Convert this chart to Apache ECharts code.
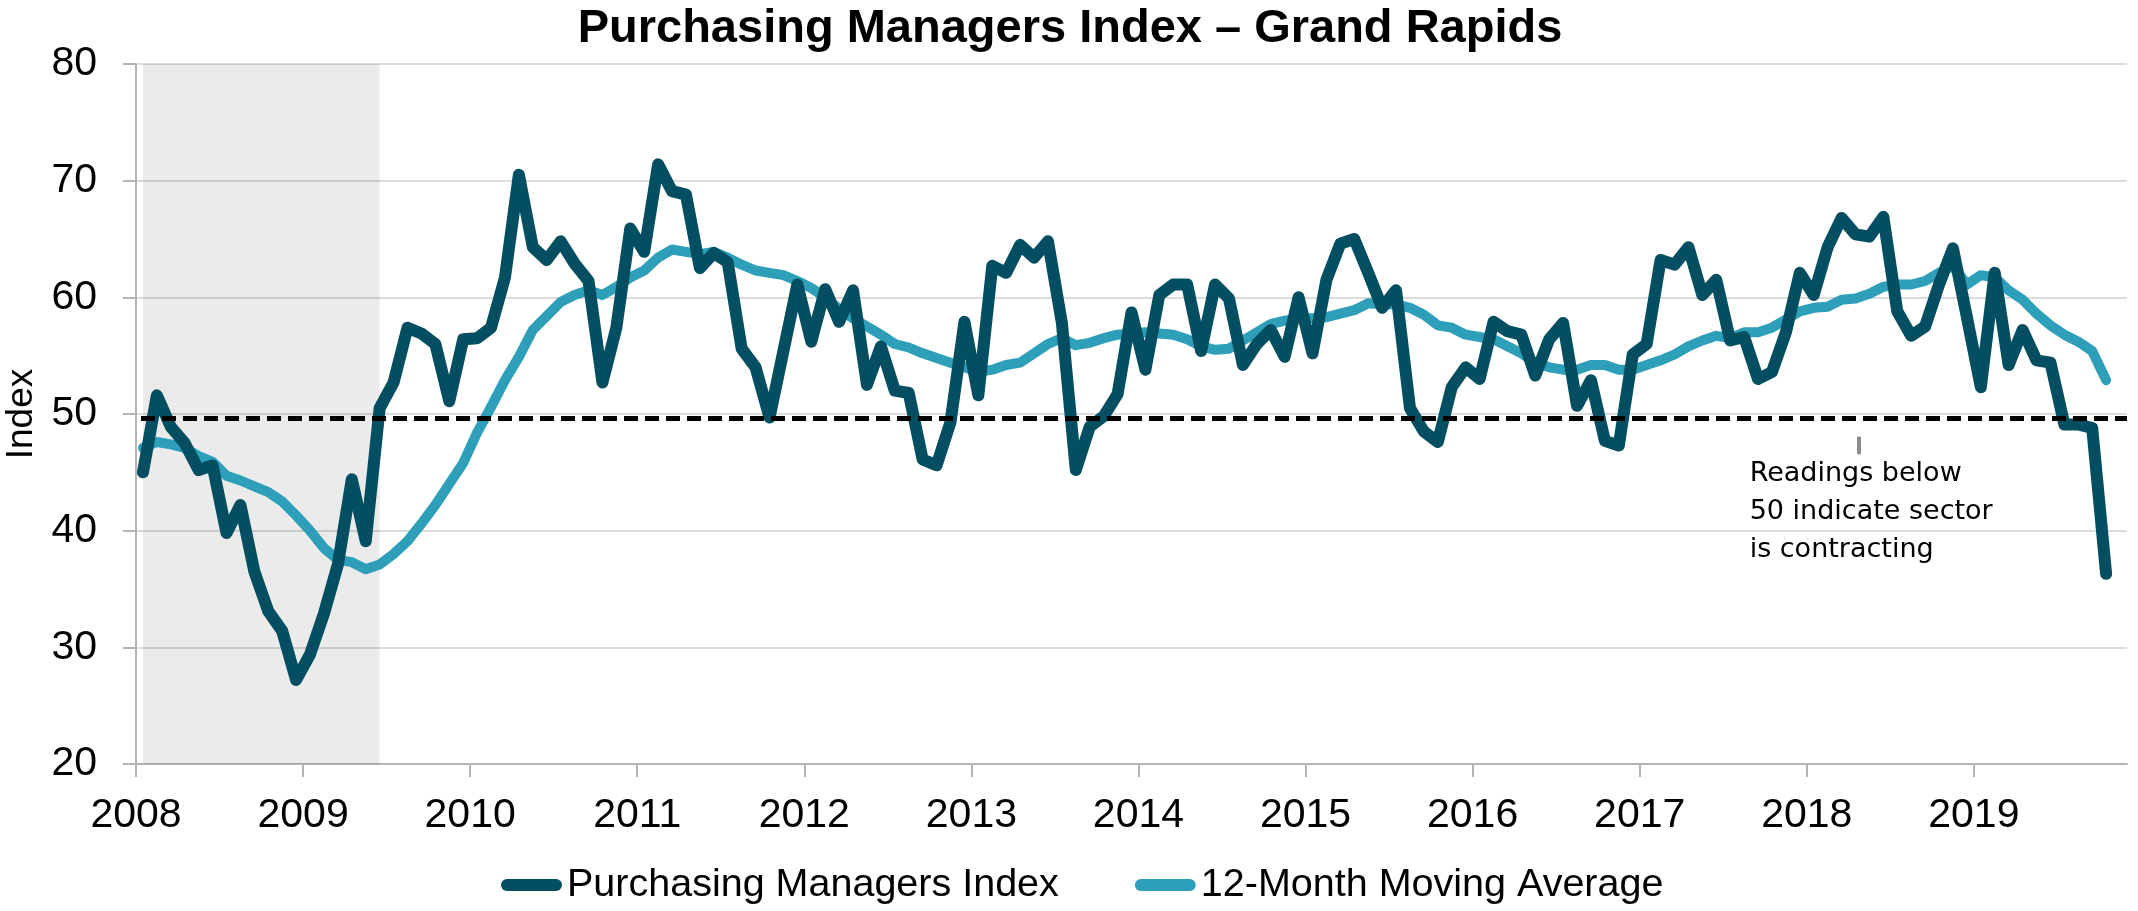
<!DOCTYPE html>
<html>
<head>
<meta charset="utf-8">
<title>Purchasing Managers Index – Grand Rapids</title>
<script src="https://cdn.jsdelivr.net/npm/echarts@6/dist/echarts.min.js"></script>
<style>
  html, body { margin: 0; padding: 0; background: #fff; }
  #chart { width: 2138px; height: 911px; }
</style>
</head>
<body>
<div id="chart"></div>
<script type="text/javascript">
  const firstYear = 2008
  const yearTicks = [2008, 2009, 2010, 2011, 2012, 2013, 2014, 2015, 2016, 2017, 2018, 2019]

  // monthly readings, Jan 2008 .. Oct 2019
  const pmi = [
    45.0, 51.6, 48.9, 47.5, 45.2, 45.6, 39.8, 42.2, 36.5, 33.1, 31.4, 27.2,
    29.4, 32.9, 37.1, 44.4, 39.1, 50.5, 52.7, 57.4, 56.9, 56.0, 51.1, 56.4,
    56.5, 57.4, 61.7, 70.5, 64.3, 63.2, 64.8, 62.9, 61.4, 52.7, 57.4, 65.9,
    63.9, 71.4, 69.1, 68.8, 62.5, 63.8, 63.0, 55.6, 54.0, 49.7, 55.4, 61.1,
    56.2, 60.7, 57.9, 60.6, 52.5, 55.8, 52.0, 51.8, 46.1, 45.6, 49.3, 57.9,
    51.6, 62.7, 62.1, 64.5, 63.4, 64.8, 57.8, 45.2, 48.9, 49.8, 51.7, 58.7,
    53.8, 60.2, 61.1, 61.1, 55.4, 61.1, 59.9, 54.2, 56.0, 57.2, 54.9, 60.0,
    55.2, 61.5, 64.6, 65.0, 62.1, 59.1, 60.6, 50.5, 48.5, 47.6, 52.3, 54.0,
    53.0, 57.9, 57.1, 56.8, 53.3, 56.4, 57.8, 50.7, 52.9, 47.7, 47.3, 55.1,
    56.0, 63.2, 62.8, 64.3, 60.2, 61.5, 56.3, 56.6, 53.0, 53.6, 57.0, 62.1,
    60.2, 64.3, 66.8, 65.4, 65.2, 66.9, 58.8, 56.7, 57.5, 61.1, 64.2, 58.3,
    52.3, 62.1, 54.2, 57.2, 54.6, 54.4, 49.1, 49.1, 48.8, 36.3
  ]
  const movingAvg = [
    47.1, 47.6, 47.4, 47.1, 46.4, 45.9, 44.7, 44.3, 43.8, 43.3, 42.5, 41.3,
    40.0, 38.5, 37.5, 37.3, 36.7, 37.1, 38.0, 39.1, 40.6, 42.2, 44.0, 45.8,
    48.4, 50.6, 52.9, 54.9, 57.2, 58.4, 59.6, 60.2, 60.6, 60.2, 60.9, 61.7,
    62.3, 63.4, 64.1, 63.9, 63.7, 63.9, 63.4, 62.8, 62.3, 62.1, 61.9, 61.4,
    60.8, 60.0, 59.0, 58.2, 57.5, 56.8, 56.0, 55.7, 55.2, 54.8, 54.4, 54.0,
    53.6, 53.8, 54.2, 54.4, 55.2, 56.0, 56.5, 55.9, 56.1, 56.5, 56.8, 56.9,
    57.0, 56.9, 56.8, 56.4, 55.8, 55.5, 55.6, 56.3, 57.0, 57.7, 58.0, 58.2,
    58.2, 58.3, 58.6, 58.9, 59.5, 59.4, 59.4, 59.1, 58.5, 57.6, 57.4, 56.8,
    56.6, 56.4, 55.8, 55.2, 54.4, 54.0, 53.8, 53.8, 54.2, 54.2, 53.8, 53.8,
    54.2, 54.6, 55.1, 55.8, 56.3, 56.7, 56.5, 57.0, 57.0, 57.4, 58.1, 58.8,
    59.1, 59.2, 59.8, 59.9, 60.3, 60.9, 61.1, 61.1, 61.4, 62.1, 62.7, 61.1,
    61.9, 61.7, 60.6, 59.8, 58.6, 57.6, 56.8, 56.2, 55.4, 52.9
  ]
  // recession shading, Jan 2008 .. Jun 2009 (month index)
  const recessionMonths = [0, 17]
  const threshold = 49.6
  const noteText = 'Readings below\n50 indicate sector\nis contracting'

  const monthPos = (i) => firstYear + (i + 0.5) / 12
  const xMax = firstYear + 143 / 12
  const FONT = '"Liberation Sans", Arial, sans-serif'
  const NOTE_FONT = '"DejaVu Sans", sans-serif'
  const capsule = 'path://M6,0 H55 A6,6 0 0 1 55,12 H6 A6,6 0 0 1 6,0 Z'

  const myChart = echarts.init(document.getElementById('chart'))

  let option = {
    animation: false,
    title: {
      text: 'Purchasing Managers Index – Grand Rapids',
      left: 1065,
      top: 1,
      textAlign: 'center',
      textStyle: {
        fontFamily: FONT,
        fontWeight: 'bold',
        fontSize: 47,
        color: '#000'
      }
    },
    legend: {
      left: 496,
      top: 860,
      itemWidth: 61,
      itemHeight: 12,
      itemGap: 76,
      selectedMode: false,
      textStyle: { fontFamily: FONT, fontSize: 39.5, color: '#000' },
      data: [
        { name: 'Purchasing Managers Index', icon: capsule },
        { name: '12-Month Moving Average', icon: capsule }
      ]
    },
    grid: { left: 136, right: 11, top: 64, bottom: 147, containLabel: false, outerBoundsMode: 'none' },
    xAxis: {
      type: 'value',
      min: firstYear,
      max: xMax,
      interval: 1,
      splitLine: { show: false },
      axisLine: { show: true, lineStyle: { color: '#b3b3b3', width: 2 } },
      axisTick: { show: true, customValues: yearTicks, length: 13, lineStyle: { color: '#b3b3b3', width: 2 } },
      axisLabel: {
        customValues: yearTicks,
        margin: 31,
        fontFamily: FONT,
        fontSize: 41,
        color: '#000',
        formatter: (v) => String(Math.round(v))
      }
    },
    yAxis: {
      type: 'value',
      min: 20,
      max: 80,
      interval: 10,
      name: 'Index',
      nameLocation: 'middle',
      nameGap: 76,
      nameTextStyle: { fontFamily: FONT, fontSize: 37, color: '#000' },
      axisLine: { show: true, lineStyle: { color: '#b3b3b3', width: 2 } },
      axisTick: { show: true, length: 13, lineStyle: { color: '#b3b3b3', width: 2 } },
      axisLabel: { margin: 39, fontFamily: FONT, fontSize: 41, color: '#000' },
      splitLine: { show: true, lineStyle: { color: '#dcdcdc', width: 2 } }
    },
    series: [{
      name: '12-Month Moving Average',
      type: 'line',
      data: movingAvg.map((v, i) => [monthPos(i), v]),
      symbol: 'none',
      z: 3,
      itemStyle: { color: '#2e9fb9' },
      lineStyle: { color: '#2e9fb9', width: 10, cap: 'round', join: 'round' },
      emphasis: { disabled: true },
      markArea: {
        silent: true,
        itemStyle: { color: 'rgba(0,0,0,0.08)' },
        data: [[{ xAxis: monthPos(recessionMonths[0]) }, { xAxis: monthPos(recessionMonths[1]) }]]
      }
    }, {
      name: 'Purchasing Managers Index',
      type: 'line',
      data: pmi.map((v, i) => [monthPos(i), v]),
      symbol: 'none',
      z: 4,
      itemStyle: { color: '#034e60' },
      lineStyle: { color: '#034e60', width: 12, cap: 'round', join: 'round' },
      emphasis: { disabled: true },
      markLine: {
        silent: true,
        symbol: ['none', 'none'],
        label: { show: false },
        data: [
          [
            { coord: [firstYear + 0.03, threshold], lineStyle: { color: '#000', width: 5, type: [14, 7] } },
            { coord: [xMax, threshold] }
          ],
          [
            { coord: [2018.313, 48.06], lineStyle: { color: '#8c8c8c', width: 4, type: 'solid' } },
            { coord: [2018.313, 46.55] }
          ]
        ]
      },
      markPoint: {
        silent: true,
        symbol: 'circle',
        symbolSize: 1,
        itemStyle: { color: 'rgba(0,0,0,0)' },
        data: [{
          coord: [2017.655, 41.56],
          label: {
            show: true,
            position: 'right',
            distance: 0,
            align: 'left',
            formatter: noteText,
            fontFamily: NOTE_FONT,
            fontSize: 27,
            lineHeight: 38,
            color: '#000'
          }
        }]
      }
    }]
  }
  myChart.setOption(option)
</script>
</body>
</html>
